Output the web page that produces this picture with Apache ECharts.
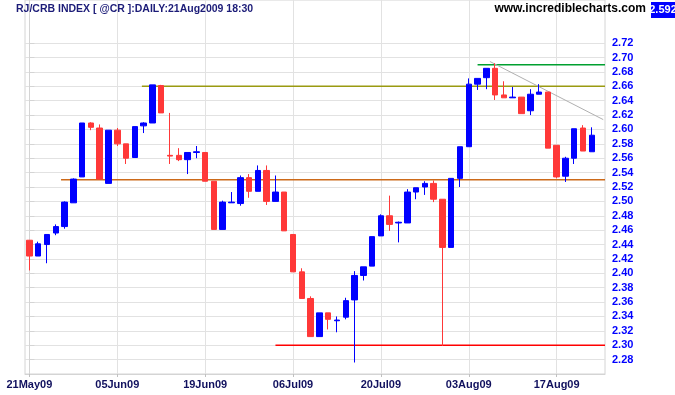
<!DOCTYPE html>
<html>
<head>
<meta charset="utf-8">
<script src="https://cdn.jsdelivr.net/npm/echarts@6/dist/echarts.min.js"></script>
<style>
html,body{margin:0;padding:0;background:#fff;}
#chart{width:675px;height:395px;}
</style>
</head>
<body>
<div id="chart"></div>
<script>
// ---- data ----
var dates = ['21May09','22May09','26May09','27May09','28May09','29May09','01Jun09','02Jun09','03Jun09','04Jun09',
 '05Jun09','08Jun09','09Jun09','10Jun09','11Jun09','12Jun09','15Jun09','16Jun09','17Jun09','18Jun09',
 '19Jun09','22Jun09','23Jun09','24Jun09','25Jun09','26Jun09','29Jun09','30Jun09','01Jul09','02Jul09',
 '06Jul09','07Jul09','08Jul09','09Jul09','10Jul09','13Jul09','14Jul09','15Jul09','16Jul09','17Jul09',
 '20Jul09','21Jul09','22Jul09','23Jul09','24Jul09','27Jul09','28Jul09','29Jul09','30Jul09','31Jul09',
 '03Aug09','04Aug09','05Aug09','06Aug09','07Aug09','10Aug09','11Aug09','12Aug09','13Aug09','14Aug09',
 '17Aug09','18Aug09','19Aug09','20Aug09','21Aug09'];
var opens = [2.446,2.424,2.440,2.456,2.465,2.498,2.534,2.609,2.602,2.525,
 2.599,2.580,2.561,2.605,2.609,2.661,2.564,2.564,2.558,2.568,
 2.568,2.528,2.461,2.498,2.497,2.533,2.514,2.543,2.500,2.513,
 2.454,2.402,2.365,2.312,2.345,2.334,2.339,2.363,2.397,2.410,
 2.452,2.480,2.470,2.470,2.513,2.520,2.525,2.503,2.436,2.532,
 2.576,2.663,2.672,2.685,2.648,2.644,2.645,2.626,2.649,2.652,
 2.578,2.535,2.560,2.602,2.569];
var closes = [2.424,2.441,2.454,2.465,2.499,2.531,2.609,2.603,2.531,2.599,
 2.580,2.560,2.604,2.609,2.662,2.623,2.563,2.558,2.568,2.569,
 2.528,2.461,2.499,2.499,2.533,2.514,2.543,2.500,2.513,2.459,
 2.402,2.365,2.312,2.345,2.336,2.335,2.362,2.397,2.409,2.451,
 2.480,2.468,2.471,2.513,2.519,2.525,2.503,2.436,2.532,2.576,
 2.663,2.671,2.685,2.648,2.644,2.645,2.622,2.649,2.652,2.574,
 2.534,2.560,2.601,2.570,2.592];
var lows = [2.404,2.424,2.414,2.453,2.462,2.498,2.534,2.599,2.531,2.525,
 2.577,2.552,2.561,2.595,2.609,2.623,2.552,2.556,2.538,2.560,
 2.528,2.461,2.461,2.498,2.494,2.505,2.514,2.495,2.500,2.459,
 2.402,2.365,2.312,2.312,2.322,2.318,2.336,2.276,2.390,2.410,
 2.452,2.459,2.443,2.470,2.503,2.509,2.499,2.299,2.436,2.520,
 2.576,2.655,2.656,2.641,2.644,2.644,2.622,2.620,2.649,2.574,
 2.532,2.527,2.552,2.570,2.569];
var highs = [2.446,2.444,2.454,2.468,2.500,2.532,2.609,2.610,2.607,2.599,
 2.602,2.580,2.604,2.610,2.662,2.662,2.623,2.574,2.568,2.577,
 2.568,2.528,2.501,2.513,2.536,2.538,2.550,2.550,2.536,2.513,
 2.454,2.407,2.368,2.345,2.345,2.340,2.366,2.403,2.409,2.451,
 2.482,2.508,2.472,2.517,2.519,2.528,2.529,2.503,2.532,2.576,
 2.671,2.671,2.685,2.692,2.667,2.659,2.645,2.656,2.663,2.652,
 2.578,2.562,2.601,2.606,2.603];
var xTickIndex = [0,10,20,30,40,50,60];
var yTicks = [2.28,2.30,2.32,2.34,2.36,2.38,2.40,2.42,2.44,2.46,2.48,2.50,2.52,2.54,2.56,2.58,2.60,2.62,2.64,2.66,2.68,2.70,2.72];
// horizontal level lines: value and starting bar index (they run to the right edge)
var levelValues = [2.53, 2.66, 2.30, 2.69];
var levelStarts = [3.6, 12.8, 28.0, 51.0];
var levelEnd = 65.5;
// trend line endpoints
var trendX = [52.4, 65.3];
var trendY = [2.6945, 2.6137];
var titleText = 'RJ/CRB INDEX [ @CR ]:DAILY:21Aug2009 18:30';
var siteText = 'www.incrediblecharts.com';

// ---- build ----
var candleData = dates.map(function(d, i){ return [i, opens[i], closes[i], lows[i], highs[i]]; });
var levelColors = ['#cc6a1a', '#9a9a10', '#ff0000', '#00a030'];
var levelWidths = [1.5, 1.5, 1.5, 1.5];
var series = [{
  type: 'candlestick',
  data: candleData,
  encode: {x: 0, y: [1, 2, 3, 4]},
  barWidth: 6,
  itemStyle: {color: '#0000ff', color0: '#ff3838', borderColor: '#0000ff', borderColor0: '#ff3838', borderWidth: 1},
  z: 3
}];
levelValues.forEach(function(v, k){
  series.push({
    type: 'line', data: [[levelStarts[k], v], [levelEnd, v]], symbol: 'none', silent: true,
    lineStyle: {color: levelColors[k], width: levelWidths[k]}, z: 2
  });
});
series.push({
  type: 'line', data: [[trendX[0], trendY[0]], [trendX[1], trendY[1]]], symbol: 'none', silent: true,
  lineStyle: {color: '#b0b0b0', width: 1}, z: 2
});

var chart = echarts.init(document.getElementById('chart'), null, {renderer: 'canvas'});
var lastClose = closes[closes.length - 1];
chart.setOption({
  animation: false,
  backgroundColor: '#ffffff',
  grid: {left: 25, right: 70, top: 0, bottom: 21, show: true, borderColor: '#d4d4d4', borderWidth: 1},
  xAxis: {
    type: 'value', min: -0.5, max: 65.5,
    axisLine: {show: true, lineStyle: {color: '#d4d4d4'}},
    axisTick: {show: true, customValues: xTickIndex, length: 3, lineStyle: {color: '#c0c0c0'}},
    axisLabel: {customValues: xTickIndex, formatter: function(v){ return dates[Math.round(v)] || ''; },
      color: '#10105e', fontFamily: 'Liberation Sans, Arial, sans-serif', fontWeight: 'bold', fontSize: 11, margin: 5},
    splitLine: {show: true, lineStyle: {color: '#e2e2e2', width: 1}}
  },
  yAxis: {
    type: 'value', position: 'right', min: 2.26, max: 2.78, scale: true,
    axisLine: {show: true, lineStyle: {color: '#d4d4d4'}},
    axisTick: {show: true, customValues: yTicks, length: 5, lineStyle: {color: '#d4d4d4'}},
    axisLabel: {customValues: yTicks, formatter: function(v){ return v.toFixed(2); },
      color: '#0000ff', fontFamily: 'Liberation Sans, Arial, sans-serif', fontWeight: 'bold', fontSize: 11, margin: 7},
    splitLine: {show: true, lineStyle: {color: '#e2e2e2', width: 1}}
  },
  graphic: [
    {type: 'text', left: 16, top: 4, z: 10,
      style: {text: titleText, fill: '#1c1c78', font: 'bold 10.5px "Liberation Sans", Arial, sans-serif'}},
    {type: 'text', right: 29, top: 3, z: 10,
      style: {text: siteText, fill: '#000000', font: 'bold 12px "Liberation Sans", Arial, sans-serif'}},
    {type: 'rect', shape: {x: 651, y: 2, width: 24, height: 16}, style: {fill: '#0000ff'}, z: 10},
    {type: 'text', x: 663, y: 10, z: 11,
      style: {text: lastClose.toFixed(3), fill: '#ffffff', align: 'center', verticalAlign: 'middle', font: 'bold 11px "Liberation Sans", Arial, sans-serif'}}
  ],
  series: series
});
</script>
</body>
</html>
